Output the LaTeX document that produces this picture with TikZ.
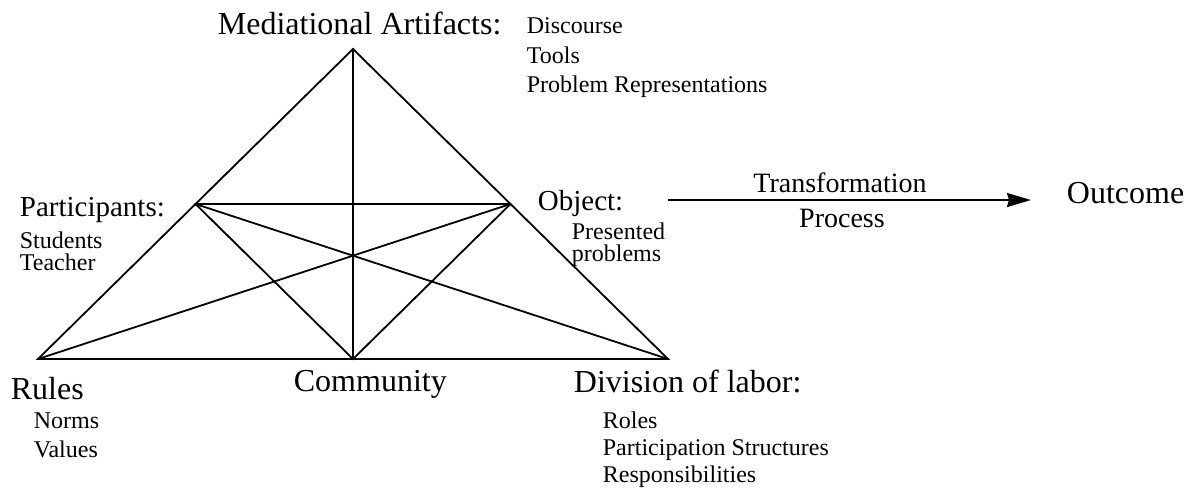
\documentclass[tikz,border=0pt]{standalone}
\usepackage{fontspec}
\setmainfont{Liberation Serif}
\usetikzlibrary{arrows.meta,calc}

\begin{document}
\begin{tikzpicture}[x=0.5pt,y=-0.5pt,line width=0.9pt,
  big/.style={anchor=base west,inner sep=0pt,font=\fontsize{16}{18}\selectfont},
  corner/.style={anchor=base west,inner sep=0pt,font=\fontsize{14.5}{17}\selectfont},
  small/.style={anchor=base west,inner sep=0pt,font=\fontsize{12}{14}\selectfont},
  mid/.style={anchor=base,inner sep=0pt,font=\fontsize{14}{16}\selectfont}]
\useasboundingbox (0,0) rectangle (1191,495);
% corners of the triangle
\coordinate (med) at (353,49);
\coordinate (rul) at (38,359);
\coordinate (div) at (668,359);
\coordinate (com) at (353,359);
\coordinate (part) at ($(med)!0.5!(rul)$);
\coordinate (obj) at ($(med)!0.5!(div)$);
\draw (med) -- (rul) -- (div) -- cycle;
\draw (med) -- (com);
\draw (part) -- (obj);
\draw (part) -- (com) -- (obj);
\draw (part) -- (div);
\draw (obj) -- (rul);
% labels
\node[big] (medlbl) at (217,34) {Mediational Artifacts:};
\foreach \y/\t in {33/Discourse,63/Tools,92/Problem Representations} {
   \node[small] (medi-\y) at (526,\y) {\t};
}
\node[corner] (partlbl) at (19,216) {Participants:};
\foreach \y/\t in {248/Students,270/Teacher} {
   \node[small] (parti-\y) at (19,\y) {\t};
}
\node[corner] (objlbl) at (537,210) {Object:};
\foreach \y/\t in {239/Presented,261/problems} {
   \node[small] (obji-\y) at (571,\y) {\t};
}
\node[big] (rullbl) at (10,399) {Rules};
\foreach \y/\t in {428/Norms,457/Values} {
   \node[small] (ruli-\y) at (33,\y) {\t};
}
\node[big] (comlbl) at (293,391) {Community};
\node[big] (divlbl) at (573,392) {Division of labor:};
\foreach \y/\t in {428/Roles,455/Participation Structures,482/Responsibilities} {
   \node[small] (divi-\y) at (602,\y) {\t};
}
% transformation arrow
\coordinate (tstart) at (668,200);
\coordinate (tend) at (1031,200);
\draw[-{Stealth[length=12pt,width=7pt,inset=1pt]}] (tstart) -- (tend);
\node[mid] (trans) at (840,192) {Transformation};
\node[mid] (proc) at (842,227) {Process};
\node[big] (outc) at (1066,203) {Outcome};
\end{tikzpicture}
\end{document}
